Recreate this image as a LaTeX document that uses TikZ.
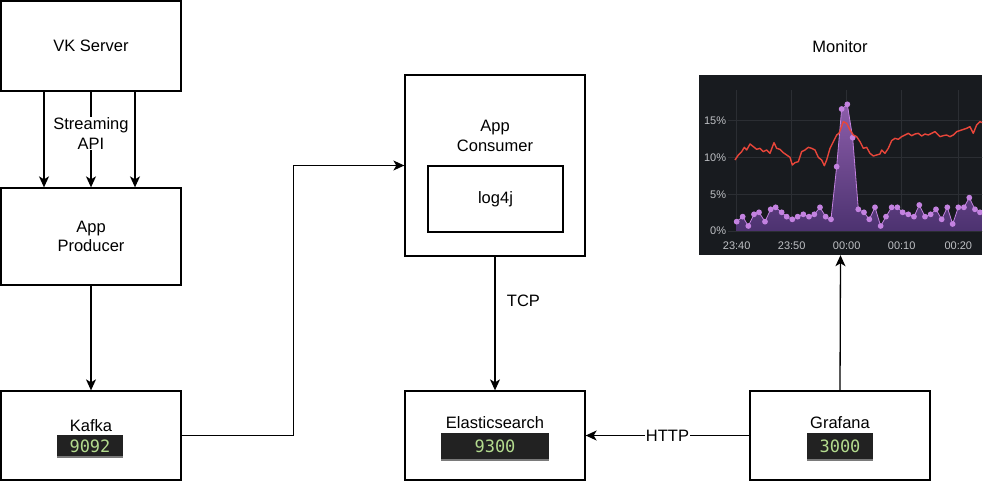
\documentclass[tikz,border=0pt]{standalone}
\usepackage{fontspec}
\setmainfont{Liberation Sans}
\newfontfamily\portfont{DejaVu Sans Mono}
\usepackage{tikz}
\usetikzlibrary{positioning,arrows.meta}
\definecolor{portbg}{HTML}{222222}
\definecolor{portfg}{HTML}{B3DB8E}
\definecolor{portedge}{HTML}{7A7A7A}
\definecolor{chartbg}{HTML}{181B1F}
\definecolor{chartgrid}{HTML}{2B2E33}
\definecolor{charttext}{HTML}{BFC1C5}
\definecolor{cpuline}{HTML}{E8463A}
\definecolor{memdot}{HTML}{C382E0}
\definecolor{memtop}{HTML}{8C5DAA}
\definecolor{membot}{HTML}{4C3270}
\tikzstyle{box} = [rectangle, draw, line width=1.3pt, minimum width=180pt, minimum height=90pt, inner sep=0pt]
\tikzstyle{port} = [rectangle, fill=portbg, text=portfg, font=\portfont\fontsize{17}{17}\selectfont, minimum width=66pt, minimum height=27pt, inner sep=0pt,
  path picture={\draw[portedge, line width=1.6pt] (path picture bounding box.south west) -- (path picture bounding box.south east);}]
\tikzstyle{wire} = [draw, line width=1.3pt, -{Stealth[length=11pt, width=10pt, inset=3pt]}]
\tikzstyle{tick} = [text=charttext, font=\fontsize{11}{11}\selectfont, inner sep=0pt]
\def\mempoints{125/455, 143/440, 160/468, 177/433, 192/427, 210/455, 227/418, 242/412, 260/427, 275/440, 292/448, 308/440, 325/433, 342/440, 358/433, 375/412, 392/440, 408/448, 425/290, 440/117, 457/103, 473/203, 490/418, 507/427, 523/448, 540/412, 557/468, 573/440, 590/412, 607/412, 623/427, 640/433, 657/440, 673/405, 690/440, 707/433, 723/418, 740/448, 757/412, 773/462, 790/412, 807/412, 823/383, 840/418, 855/427}
\def\cpupoints{130/255, 140/245, 148/232, 155/240, 165/222, 175/230, 185/238, 195/235, 205/245, 215/240, 225/250, 237/218, 245/235, 255/238, 265/248, 275/255, 285/262, 292/285, 300/278, 310/275, 320/245, 330/240, 340/232, 350/235, 360/240, 370/262, 380/270, 388/287, 395/270, 405/235, 415/215, 425/195, 432/190, 438/175, 445/155, 455/160, 465/180, 475/195, 485/200, 495/215, 505/235, 515/232, 525/250, 535/258, 545/255, 555/252, 560/240, 570/250, 580/235, 590/212, 600/205, 610/208, 620/200, 630/195, 640/190, 650/197, 660/192, 670/190, 680/198, 690/192, 700/195, 710/190, 720/185, 735/200, 745/197, 755/195, 765/200, 775/195, 785/185, 800/180, 815/175, 825/170, 835/190, 845/165, 855/155, 862/158}

\begin{document}
\begin{tikzpicture}[x=1pt, y=-1pt, font=\fontsize{16.5}{19.5}\selectfont]
        \useasboundingbox (0,0) rectangle (983,482);
        % Place nodes
        \node at (91, 46) [box] (vk) {VK Server};
        \node at (91, 236.5) [box, minimum height=97pt, align=center] (prod) {App\\Producer};
        \node at (91, 435.5) [box, minimum height=89pt] (kafka) {};
        \node at (91, 425.5) (kname) {Kafka};
        \node at (90, 446) [port, minimum height=22pt] (kport) {9092};
        \node at (495, 165.5) [box, minimum height=181pt] (cons) {};
        \node at (495, 136) [align=center] (cname) {App\\Consumer};
        \node at (495.5, 199) [box, minimum width=135pt, minimum height=66pt] (log) {log4j};
        \node at (495, 435.5) [box, minimum height=89pt] (elastic) {};
        \node at (495, 423) (ename) {Elasticsearch};
        \node at (495, 446.5) [port, minimum width=108pt] (eport) {9300};
        \node at (840, 435.5) [box, minimum height=89pt] (grafana) {};
        \node at (840, 423) (gname) {Grafana};
        \node at (840, 446.5) [port] (gport) {3000};
        \node at (840.5, 165) [rectangle, fill=chartbg, minimum width=283pt, minimum height=180pt, inner sep=0pt] (chart) {};
        \node at (840, 47) (mon) {Monitor};

        % Chart
        \begin{scope}
        \clip (chart.south west) rectangle (chart.north east);
        \begin{scope}[xshift=695pt, yshift=-70pt, x=0.3333pt, y=-0.3333pt]
        \foreach \gy in {152, 263, 373, 483}
            \draw[chartgrid, line width=0.8pt] (100, \gy) -- (870, \gy);
        \foreach \gx in {125, 290, 455, 620, 790}
            \draw[chartgrid, line width=0.8pt] (\gx, 60) -- (\gx, 483);
        \foreach \gy/\txt in {152/15\%, 263/10\%, 373/5\%, 483/0\%}
            \node[tick, anchor=east] at (94, \gy) {\txt};
        \foreach \gx/\txt in {125/23:40, 290/23:50, 455/00:00, 620/00:10, 790/00:20}
            \node[tick] at (\gx, 528) {\txt};
        \shade[top color=memtop, bottom color=membot] (125, 483) \foreach \px/\py in \mempoints { -- (\px, \py)} -- (862, 432) -- (862, 483) -- cycle;
        \draw[memdot, line width=0.8pt] (125, 455) \foreach \px/\py in \mempoints { -- (\px, \py)} -- (862, 432);
        \foreach \px/\py in \mempoints
            \fill[memdot] (\px, \py) circle (2.9pt);
        \draw[cpuline, line width=1.4pt, line join=round] (120, 270) \foreach \px/\py in \cpupoints { -- (\px, \py)};
        \end{scope}
        \end{scope}

        % Draw edges
        \path [wire] ([xshift=-47pt]vk.south) -- ([xshift=-47pt]prod.north);
        \path [wire] (vk.south) -- node [pos=0.44, fill=white, align=center, inner sep=1pt] {Streaming\\API} (prod.north);
        \path [wire] ([xshift=44pt]vk.south) -- ([xshift=44pt]prod.north);
        \path [wire] (prod.south) -- (kafka.north);
        \path [wire] (kafka.east) -- ++(112, 0) |- (cons.west);
        \path [wire] (cons.south) -- node [pos=0.33, right=8pt] {TCP} (elastic.north);
        \path [wire] (grafana.west) -- node [fill=white, inner sep=1pt] {HTTP} (elastic.east);
        \path [wire] (grafana.north) -- (chart.south);
\end{tikzpicture}
\end{document}
